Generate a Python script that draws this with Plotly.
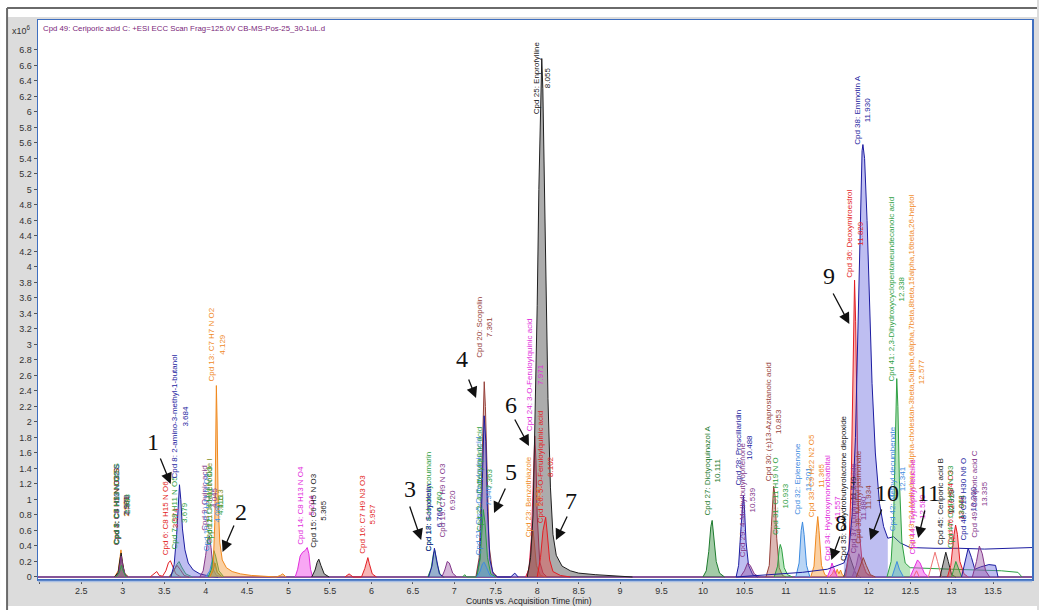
import plotly.graph_objects as go

# ---------------- data (intensities in units of 10^6 counts, time in min) ----------------
run_start, run_end = 1.977, 13.97
baseline_times = [run_start, run_end]
baseline_counts = [0.0, 0.0]

# one entry per drawn chromatogram segment: compound id (0 = unlabeled), (time, counts) points
trace_cpd = [1, 2, 3, 4, 5, 6, 7, 0, 8, 9, 10, 11, 12, 13, 14, 15, 16, 17, 18, 19,
             20, 0, 22, 21, 23, 24, 25, 26, 27, 28, 29, 30, 31, 32, 33, 34, 35, 37,
             0, 0, 36, 38, 39, 41, 0, 42, 43, 44, 0, 45, 46, 47, 48, 49]
trace_points = [
    [(2.90, 0), (2.94, 0.05), (2.965, 0.18), (2.98, 0.24), (2.995, 0.15), (3.02, 0.04), (3.06, 0)],
    [(2.90, 0), (2.945, 0.08), (2.97, 0.28), (2.978, 0.35), (2.99, 0.22), (3.02, 0.05), (3.07, 0)],
    [(2.90, 0), (2.945, 0.06), (2.965, 0.22), (2.98, 0.31), (2.995, 0.20), (3.02, 0.05), (3.06, 0)],
    [(2.91, 0), (2.95, 0.05), (2.972, 0.20), (2.98, 0.27), (3.00, 0.14), (3.03, 0.03), (3.07, 0)],
    [(2.92, 0), (2.96, 0.06), (2.983, 0.15), (3.00, 0.09), (3.04, 0)],
    [(3.33, 0), (3.38, 0.05), (3.41, 0.07), (3.44, 0.02), (3.48, 0.01), (3.52, 0.08), (3.55, 0.18),
     (3.574, 0.21), (3.60, 0.14), (3.64, 0.04), (3.70, 0)],
    [(3.56, 0), (3.61, 0.07), (3.65, 0.16), (3.679, 0.20), (3.71, 0.13), (3.76, 0.04), (3.84, 0)],
    [(3.56, 0), (3.62, 0.10), (3.655, 0.15), (3.69, 0.10), (3.74, 0.02), (3.80, 0)],
    [(3.58, 0), (3.62, 0.16), (3.65, 0.55), (3.67, 0.95), (3.684, 1.19), (3.70, 1.00), (3.72, 0.62),
     (3.75, 0.35), (3.79, 0.18), (3.85, 0.09), (3.93, 0.04), (4.05, 0.01), (4.15, 0)],
    [(3.93, 0), (3.97, 0.08), (4.00, 0.28), (4.025, 0.48), (4.045, 0.53), (4.065, 0.38), (4.09, 0.10),
     (4.13, 0.02), (4.20, 0)],
    [(4.00, 0), (4.05, 0.08), (4.08, 0.22), (4.10, 0.20), (4.14, 0.05), (4.20, 0)],
    [(4.03, 0), (4.07, 0.10), (4.10, 0.34), (4.12, 0.27), (4.16, 0.08), (4.22, 0)],
    [(4.05, 0), (4.09, 0.08), (4.113, 0.18), (4.14, 0.06), (4.20, 0)],
    [(4.05, 0), (4.09, 0.12), (4.11, 0.70), (4.12, 1.90), (4.129, 2.47), (4.138, 2.00), (4.15, 1.00),
     (4.17, 0.45), (4.20, 0.22), (4.25, 0.12), (4.32, 0.07), (4.42, 0.04), (4.55, 0.02), (4.70, 0.01),
     (4.85, 0), (4.90, 0.02), (4.93, 0.04), (4.97, 0)],
    [(5.08, 0), (5.11, 0.10), (5.14, 0.27), (5.17, 0.32), (5.20, 0.34), (5.225, 0.38), (5.245, 0.30),
     (5.265, 0.10), (5.29, 0)],
    [(5.28, 0), (5.32, 0.09), (5.345, 0.19), (5.365, 0.23), (5.39, 0.15), (5.43, 0.04), (5.49, 0)],
    [(5.68, 0), (5.73, 0.04), (5.78, 0), (5.88, 0), (5.92, 0.11), (5.945, 0.22), (5.957, 0.25),
     (5.975, 0.17), (6.01, 0.04), (6.06, 0)],
    [(6.68, 0), (6.72, 0.11), (6.75, 0.31), (6.765, 0.34), (6.79, 0.17), (6.83, 0.03), (6.88, 0)],
    [(6.69, 0), (6.73, 0.14), (6.76, 0.37), (6.785, 0.22), (6.82, 0.04), (6.87, 0)],
    [(6.85, 0), (6.885, 0.09), (6.915, 0.20), (6.94, 0.18), (6.98, 0.05), (7.03, 0)],
    [(7.26, 0), (7.30, 0.25), (7.325, 1.10), (7.345, 2.10), (7.361, 2.52), (7.375, 2.20), (7.395, 1.30),
     (7.42, 0.40), (7.46, 0.07), (7.52, 0)],
    [(7.27, 0), (7.31, 0.25), (7.335, 1.10), (7.36, 2.08), (7.38, 1.75), (7.40, 0.85), (7.43, 0.22),
     (7.47, 0.04), (7.52, 0), (7.68, 0), (7.73, 0.05), (7.77, 0)],
    [(7.10, 0), (7.125, 0.03), (7.15, 0), (7.27, 0), (7.31, 0.22), (7.335, 0.70), (7.35, 0.87),
     (7.37, 0.70), (7.40, 0.25), (7.44, 0.04), (7.50, 0)],
    [(7.27, 0), (7.31, 0.07), (7.34, 0.17), (7.36, 0.19), (7.39, 0.12), (7.43, 0.02), (7.48, 0)],
    [(7.87, 0), (7.91, 0.15), (7.935, 0.45), (7.95, 0.60), (7.965, 0.45), (7.99, 0.15), (8.04, 0.02), (8.10, 0)],
    [(7.86, 0), (7.90, 0.10), (7.93, 0.50), (7.955, 1.40), (7.971, 1.82), (7.985, 1.50), (8.00, 0.80),
     (8.03, 0.20), (8.07, 0.05), (8.12, 0)],
    [(7.88, 0), (7.92, 0.25), (7.95, 0.80), (7.98, 2.20), (8.00, 3.50), (8.02, 5.00), (8.042, 6.30),
     (8.055, 6.69), (8.068, 6.30), (8.09, 5.00), (8.11, 3.50), (8.13, 2.30), (8.16, 1.15), (8.19, 0.55),
     (8.23, 0.28), (8.30, 0.14), (8.40, 0.08), (8.50, 0.05), (8.70, 0.03), (8.90, 0.02), (9.10, 0.01), (9.15, 0)],
    [(8.00, 0), (8.04, 0.25), (8.07, 0.60), (8.09, 0.74), (8.102, 0.77), (8.12, 0.58), (8.15, 0.22),
     (8.19, 0.07), (8.28, 0.02), (8.40, 0)],
    [(10.00, 0), (10.04, 0.08), (10.07, 0.33), (10.095, 0.65), (10.111, 0.73), (10.13, 0.55), (10.16, 0.20),
     (10.20, 0.05), (10.26, 0)],
    [(10.40, 0), (10.43, 0.15), (10.46, 0.65), (10.475, 0.95), (10.488, 1.05), (10.50, 0.90), (10.52, 0.45),
     (10.55, 0.15), (10.60, 0.03), (10.66, 0)],
    [(10.45, 0), (10.50, 0.08), (10.539, 0.18), (10.57, 0.15), (10.62, 0.04), (10.68, 0)],
    [(10.76, 0), (10.80, 0.15), (10.825, 0.65), (10.845, 1.10), (10.853, 1.17), (10.87, 1.05), (10.89, 0.50),
     (10.92, 0.12), (10.96, 0.02), (11.00, 0)],
    [(10.86, 0), (10.90, 0.14), (10.92, 0.36), (10.933, 0.42), (10.95, 0.36), (10.98, 0.12), (11.02, 0.03), (11.08, 0)],
    [(11.12, 0), (11.16, 0.18), (11.185, 0.60), (11.201, 0.71), (11.22, 0.55), (11.25, 0.15), (11.29, 0)],
    [(11.30, 0), (11.34, 0.14), (11.365, 0.55), (11.385, 0.78), (11.40, 0.60), (11.43, 0.15), (11.47, 0.03),
     (11.52, 0), (11.56, 0.04), (11.58, 0.09), (11.60, 0.04), (11.62, 0.10), (11.64, 0.04), (11.66, 0.09),
     (11.68, 0.03), (11.72, 0)],
    [(11.50, 0), (11.535, 0.09), (11.557, 0.18), (11.58, 0.12), (11.62, 0)],
    [(11.70, 0), (11.735, 0.14), (11.76, 0.30), (11.79, 0.20), (11.84, 0.05), (11.90, 0)],
    [(11.80, 0), (11.85, 0.15), (11.88, 0.30), (11.92, 0.20), (11.97, 0.05), (12.02, 0)],
    [(10.40, 0), (10.80, 0.03), (11.20, 0.06), (11.50, 0.10), (11.70, 0.18)],
    [(12.23, 0.50), (12.30, 0.52), (12.38, 0.44), (12.50, 0.38), (12.80, 0.37), (13.10, 0.37),
     (13.40, 0.36), (13.70, 0.37), (13.97, 0.38)],
    [(11.72, 0), (11.76, 0.30), (11.79, 1.30), (11.81, 2.80), (11.829, 3.83), (11.842, 3.30), (11.86, 1.70),
     (11.88, 0.65), (11.92, 0.20), (11.97, 0.05), (12.05, 0)],
    [(11.70, 0.18), (11.76, 0.35), (11.80, 0.80), (11.84, 1.80), (11.87, 3.20), (11.90, 4.80), (11.92, 5.50),
     (11.93, 5.58), (11.95, 5.40), (11.98, 4.60), (12.01, 3.50), (12.04, 2.50), (12.08, 1.60), (12.13, 0.95),
     (12.18, 0.65), (12.23, 0.50)],
    [(11.85, 0), (11.90, 0.15), (11.934, 0.25), (11.97, 0.15), (12.02, 0.03), (12.08, 0)],
    [(12.22, 0), (12.27, 0.20), (12.30, 0.75), (12.32, 1.80), (12.338, 2.56), (12.352, 2.20), (12.37, 1.25),
     (12.40, 0.45), (12.44, 0.18), (12.50, 0.12)],
    [(12.50, 0.12), (12.70, 0.11), (13.00, 0.10), (13.30, 0.09), (13.60, 0.08), (13.80, 0.06), (13.85, 0)],
    [(12.28, 0), (12.31, 0.10), (12.341, 0.20), (12.37, 0.10), (12.42, 0)],
    [(12.54, 0), (12.577, 0.08), (12.61, 0)],
    [(12.50, 0), (12.55, 0.12), (12.589, 0.22), (12.62, 0.18), (12.67, 0.05), (12.72, 0)],
    [(12.72, 0), (12.77, 0.20), (12.80, 0.32), (12.83, 0.20), (12.88, 0)],
    [(12.86, 0), (12.90, 0.20), (12.93, 0.32), (12.96, 0.20), (13.00, 0.03), (13.05, 0)],
    [(12.95, 0), (12.99, 0.15), (13.03, 0.55), (13.048, 0.67), (13.07, 0.55), (13.10, 0.20), (13.15, 0.04), (13.20, 0)],
    [(13.00, 0), (13.03, 0.12), (13.051, 0.20), (13.08, 0.12), (13.12, 0)],
    [(13.12, 0), (13.16, 0.20), (13.20, 0.37), (13.24, 0.25), (13.28, 0.10), (13.35, 0.13), (13.45, 0.16),
     (13.53, 0.15), (13.56, 0)],
    [(13.25, 0), (13.30, 0.20), (13.335, 0.40), (13.37, 0.30), (13.41, 0.08), (13.46, 0)],
]

# compound labels
label_ids = [1, 2, 3, 4, 5, 6, 7, 8, 9, 10, 11, 12, 13, 14, 15, 16, 17, 18, 19, 20, 21, 22, 23, 24, 25,
             26, 27, 28, 29, 30, 31, 32, 33, 34, 35, 36, 37, 38, 39, 41, 42, 43, 44, 45, 46, 47, 48, 49]
label_names = [
    "Cpd 1: C5 H11 N O2 S", "Cpd 2: C3 H7 N O2 S", "Cpd 3: C4 H9 N O3 S", "Cpd 4: C6 H13 N O2 S",
    "Cpd 5: C7 H13 N O5 S", "Cpd 6: C8 H15 N O6", "Cpd 7: C8 H11 N O5", "Cpd 8: 2-amino-3-methyl-1-butanol",
    "Cpd 9: Quinic acid", "Cpd 10: C7 H11 N O4", "Cpd 11: Isoakeboside I", "Cpd 12: C4 H11 N O3",
    "Cpd 13: C7 H7 N O2", "Cpd 14: C8 H13 N O4", "Cpd 15: C6 H5 N O3", "Cpd 16: C7 H9 N3 O3",
    "Cpd 17: 4-Hydroxycoumarin", "Cpd 18: Scopoletin", "Cpd 19: C7 H9 N O3", "Cpd 20: Scopolin",
    "Cpd 21: Cis-5-Caffeoylquinic acid", "Cpd 22: 4-Caffeoylquinic acid", "Cpd 23: Benzothiazole",
    "Cpd 24: 3-O-Feruloylquinic acid", "Cpd 25: Enprofylline", "Cpd 26: 5-O-Feruloylquinic acid",
    "Cpd 27: Dictyoquinazol A", "Cpd 28: Proscillaridin", "Cpd 29: 4-Methylbutyrophenone",
    "Cpd 30: (\u00b1)13-Azaprostanoic acid", "Cpd 31: C11 H19 N O", "Cpd 32: Eplerenone",
    "Cpd 33: C9 H22 N2 O5", "Cpd 34: Hydroxymonobarbital", "Cpd 35: Dehydrobutyrolactone diepoxide",
    "Cpd 36: Deoxymiroestrol", "Cpd 37: Lupinine N-oxide", "Cpd 38: Emmotin A", "Cpd 39: Methyl jasmonate",
    "Cpd 41: 2,3-Dihydroxycyclopentaneundecanoic acid", "Cpd 42: Methyl decumbenate",
    "Cpd 43: 24-Methylene-5alpha-cholestan-3beta,5alpha,6alpha,7beta,8beta,15alpha,16beta,26-heptol",
    "Cpd 44: Tryptophyl-leucine", "Cpd 45: Ceriporic acid B", "Cpd 46: C17 H34 O3", "Cpd 47: C14 H27 N O3",
    "Cpd 48: C15 H30 N6 O", "Cpd 49: Ceriporic acid C",
]
label_rt = ["2.976", "2.978", "2.981", "2.978", "2.983", "3.574", "3.679", "3.684", "4.045", "4.080",
            "4.113", "4.115", "4.129", "5.204", "5.365", "5.957", "6.760", "6.760", "6.920", "7.361",
            "7.346", "7.363", "7.950", "7.971", "8.055", "8.102", "10.111", "10.488", "10.539", "10.853",
            "10.933", "11.201", "11.365", "11.557", "11.749", "11.829", "11.880", "11.930", "11.934",
            "12.338", "12.341", "12.577", "12.589", "12.929", "13.048", "13.051", "13.200", "13.335"]

x_tick_vals = [2.0, 2.5, 3.0, 3.5, 4.0, 4.5, 5.0, 5.5, 6.0, 6.5, 7.0, 7.5, 8.0, 8.5, 9.0, 9.5,
               10.0, 10.5, 11.0, 11.5, 12.0, 12.5, 13.0, 13.5]
x_tick_text = ["", "2.5", "3", "3.5", "4", "4.5", "5", "5.5", "6", "6.5", "7", "7.5", "8", "8.5", "9",
               "9.5", "10", "10.5", "11", "11.5", "12", "12.5", "13", "13.5"]
y_tick_vals = [0, 0.2, 0.4, 0.6, 0.8, 1, 1.2, 1.4, 1.6, 1.8, 2, 2.2, 2.4, 2.6, 2.8, 3, 3.2, 3.4,
               3.6, 3.8, 4, 4.2, 4.4, 4.6, 4.8, 5, 5.2, 5.4, 5.6, 5.8, 6, 6.2, 6.4, 6.6, 6.8]
y_tick_text = ["0", "0.2", "0.4", "0.6", "0.8", "1", "1.2", "1.4", "1.6", "1.8", "2", "2.2", "2.4",
               "2.6", "2.8", "3", "3.2", "3.4", "3.6", "3.8", "4", "4.2", "4.4", "4.6", "4.8", "5", "5.2",
               "5.4", "5.6", "5.8", "6", "6.2", "6.4", "6.6", "6.8"]

# ---------------- styles ----------------
PALETTE = {
    'black': ('#202020', 'rgba(70,70,70,0.45)'),
    'navy': ('#1c1ca0', 'rgba(110,110,225,0.45)'),
    'red': ('#e31e24', 'rgba(235,70,70,0.40)'),
    'lightred': ('#ef7474', 'rgba(240,120,120,0.30)'),
    'green': ('#2ea043', 'rgba(80,190,90,0.40)'),
    'darkgreen': ('#1e7b2e', 'rgba(50,140,60,0.45)'),
    'orange': ('#f0891e', 'rgba(245,150,50,0.45)'),
    'purple': ('#83378a', 'rgba(150,80,160,0.40)'),
    'magenta': ('#e22edc', 'rgba(240,60,230,0.45)'),
    'crimson': ('#e0204f', 'rgba(240,60,120,0.45)'),
    'lightblue': ('#3d8be0', 'rgba(80,150,230,0.40)'),
    'brown': ('#96413a', 'rgba(180,100,90,0.45)'),
    'olive': ('#7f8c1a', 'rgba(140,150,40,0.40)'),
}
trace_style = ['lightblue', 'orange', 'black', 'purple', 'green', 'red', 'green', 'brown', 'navy', 'purple',
               'lightblue', 'green', 'olive', 'orange', 'magenta', 'black', 'red', 'green', 'navy', 'purple',
               'brown', 'navy', 'green', 'lightblue', 'orange', 'crimson', 'black', 'red', 'darkgreen', 'navy',
               'purple', 'brown', 'green', 'lightblue', 'orange', 'magenta', 'black', 'purple',
               'navy', 'navy', 'red', 'navy', 'brown', 'green', 'green', 'lightblue', 'orange', 'magenta',
               'lightred', 'black', 'red', 'green', 'navy', 'purple']
trace_filled = [True, True, True, True, False, False, True, False, True, True,
                True, True, False, True, True, True, True, True, True, True,
                True, True, True, True, True, True, True, True, True, True,
                True, True, True, True, True, True, True, True,
                False, False, True, True, True, True, False, True, False, True,
                False, True, True, True, True, True]
label_style = ['lightblue', 'orange', 'black', 'purple', 'green', 'red', 'green', 'navy', 'purple', 'lightblue',
               'olive', 'green', 'orange', 'magenta', 'black', 'red', 'green', 'navy', 'purple', 'brown',
               'lightblue', 'green', 'orange', 'magenta', 'black', 'red', 'darkgreen', 'navy', 'purple', 'brown',
               'green', 'lightblue', 'orange', 'magenta', 'black', 'red', 'purple', 'navy', 'brown',
               'green', 'lightblue', 'orange', 'magenta', 'black', 'red', 'green', 'navy', 'purple']
# label bottom positions (y units); Cpd 25 label hangs from the top of the plot
label_base = {1: 0.39, 2: 0.39, 3: 0.39, 4: 0.39, 5: 0.39, 6: 0.26, 7: 0.33, 8: 1.25, 9: 0.57, 10: 0.31,
              11: 0.45, 12: 0.40, 13: 2.5, 14: 0.39, 15: 0.35, 16: 0.28, 17: 0.31, 18: 0.31, 19: 0.48,
              20: 2.8, 21: 0.26, 22: 0.57, 23: 0.48, 24: 1.86, 25: 6.93, 26: 0.67, 27: 0.77, 28: 1.16,
              29: 0.23, 30: 1.21, 31: 0.52, 32: 0.77, 33: 0.74, 34: 0.18, 35: 0.18, 36: 3.83, 37: 0.28,
              38: 5.55, 39: 0.40, 41: 2.5, 42: 0.57, 43: 0.33, 44: 0.26, 45: 0.39, 46: 0.39, 47: 0.35,
              48: 0.44, 49: 0.48}

# numbered arrows: (number, text x, text y, tail x, tail y, head x, head y) in axis units
arrow_marks = [
    ("1", 3.361, 1.742, 3.446, 1.548, 3.578, 1.20),
    ("2", 4.421, 0.839, 4.349, 0.684, 4.204, 0.323),
    ("3", 6.468, 1.135, 6.456, 0.929, 6.600, 0.477),
    ("4", 7.094, 2.813, 7.166, 2.568, 7.262, 2.310),
    ("5", 7.684, 1.355, 7.624, 1.161, 7.479, 0.826),
    ("6", 7.684, 2.219, 7.720, 2.052, 7.901, 1.690),
    ("7", 8.406, 0.981, 8.370, 0.800, 8.226, 0.477),
    ("8", 11.670, 0.697, 11.658, 0.542, 11.549, 0.219),
    ("9", 11.525, 3.884, 11.561, 3.677, 11.766, 3.265),
    ("10", 12.223, 1.084, 12.163, 0.890, 12.019, 0.477),
    ("11", 12.717, 1.084, 12.681, 0.877, 12.597, 0.503),
]

LABEL_FONT = "Liberation Sans Narrow, Arial Narrow, Liberation Sans, Arial, sans-serif"
AXIS_FONT = "Liberation Sans, Arial, sans-serif"
W, H = 1039, 610
ML, MR, MT, MB = 38, 5, 20, 31
PW, PH = W - ML - MR, H - MT - MB


def px(xp):
    return (xp - ML) / PW


def py(yp):
    return (H - MB - yp) / PH


fig = go.Figure()

for key in ['red', 'navy']:
    fig.add_trace(go.Scatter(x=baseline_times, y=baseline_counts, mode='lines',
                             line=dict(color=PALETTE[key][0], width=1.2), hoverinfo='skip'))

for cid, pts, sty, filled in zip(trace_cpd, trace_points, trace_style, trace_filled):
    line_c, fill_c = PALETTE[sty]
    fig.add_trace(go.Scatter(
        x=[p[0] for p in pts], y=[p[1] for p in pts], mode='lines',
        line=dict(color=line_c, width=1),
        fill='tozeroy' if filled else None,
        fillcolor=fill_c if filled else None,
        name=f"Cpd {cid}" if cid else "",
    ))

annotations = []
for cid, name, rtxt, sty in zip(label_ids, label_names, label_rt, label_style):
    top_hang = (cid == 25)
    annotations.append(dict(
        x=float(rtxt), y=label_base[cid], xref='x', yref='y',
        text=f"{name}<br>{rtxt}", showarrow=False, textangle=-90,
        xanchor='center', yanchor='top' if top_hang else 'bottom', yshift=0 if top_hang else 1,
        font=dict(family=LABEL_FONT, size=8, color=PALETTE[sty][0]),
        borderpad=0,
    ))

for num, tx, ty, ax0, ay0, hx, hy in arrow_marks:
    annotations.append(dict(x=tx, y=ty, xref='x', yref='y', text=num, showarrow=False,
                            font=dict(family="Liberation Serif, Times New Roman, serif", size=24, color='#111')))
    annotations.append(dict(x=hx, y=hy, ax=ax0, ay=ay0, xref='x', yref='y', axref='x', ayref='y',
                            text='', showarrow=True, arrowhead=2, arrowsize=1.7, arrowwidth=1.3,
                            arrowcolor='#111', standoff=0, startstandoff=0))

annotations.append(dict(x=px(41), y=py(29), xref='paper', yref='paper', xanchor='left', yanchor='middle',
                        text="Cpd 49: Ceriporic acid C: +ESI ECC Scan Frag=125.0V CB-MS-Pos-25_30-1uL.d",
                        showarrow=False, font=dict(family=LABEL_FONT, size=7.8, color='#7a1f7a')))
annotations.append(dict(x=px(21), y=py(30), xref='paper', yref='paper', xanchor='center', yanchor='middle',
                        text="x10<sup>6</sup>", showarrow=False,
                        font=dict(family=AXIS_FONT, size=9, color='#333')))
annotations.append(dict(x=px(530), y=py(601), xref='paper', yref='paper', xanchor='center', yanchor='middle',
                        text="Counts vs. Acquisition Time (min)", showarrow=False,
                        font=dict(family=LABEL_FONT, size=8.5, color='#222')))

shapes = [
    dict(type='rect', xref='paper', yref='paper', x0=px(0), x1=px(W), y0=py(0), y1=py(17),
         fillcolor='white', line=dict(width=0), layer='below'),
    dict(type='rect', xref='paper', yref='paper', x0=px(0), x1=px(7), y0=py(0), y1=py(H),
         fillcolor='white', line=dict(width=0), layer='below'),
    dict(type='rect', xref='paper', yref='paper', x0=px(0), x1=px(W), y0=py(606), y1=py(H),
         fillcolor='white', line=dict(width=0), layer='below'),
    dict(type='line', xref='paper', yref='paper', x0=px(7), x1=px(W), y0=py(8), y1=py(8),
         line=dict(color='#6a6a6a', width=2)),
    dict(type='line', xref='paper', yref='paper', x0=px(7), x1=px(7), y0=py(8), y1=py(H),
         line=dict(color='#6a6a6a', width=2)),
    dict(type='line', xref='paper', yref='paper', x0=px(38), x1=px(1034), y0=py(581.5), y1=py(581.5),
         line=dict(color='#a9bfe3', width=1.5)),
]

fig.update_layout(
    width=W, height=H, autosize=False,
    margin=dict(l=ML, r=MR, t=MT, b=MB, pad=0),
    paper_bgcolor='#dcdcdc', plot_bgcolor='white',
    showlegend=False, hovermode=False,
    annotations=annotations, shapes=shapes,
    xaxis=dict(range=[run_start, run_end], tickvals=x_tick_vals, ticktext=x_tick_text,
               ticks='outside', ticklen=3, tickcolor='#555', showgrid=False, zeroline=False,
               showline=True, mirror=True, linecolor='#3f6fbf', linewidth=1.5,
               tickfont=dict(family=AXIS_FONT, size=9, color='#333')),
    yaxis=dict(range=[-0.026, 7.187], tickvals=y_tick_vals, ticktext=y_tick_text,
               ticks='outside', ticklen=3, tickcolor='#555', showgrid=False, zeroline=False,
               showline=True, mirror=True, linecolor='#3f6fbf', linewidth=1.5,
               tickfont=dict(family=AXIS_FONT, size=9, color='#333')),
)

fig.write_html("out.html", config={'displayModeBar': False, 'staticPlot': True},
               post_script="document.body.style.margin='0';document.body.style.overflow='hidden';")
